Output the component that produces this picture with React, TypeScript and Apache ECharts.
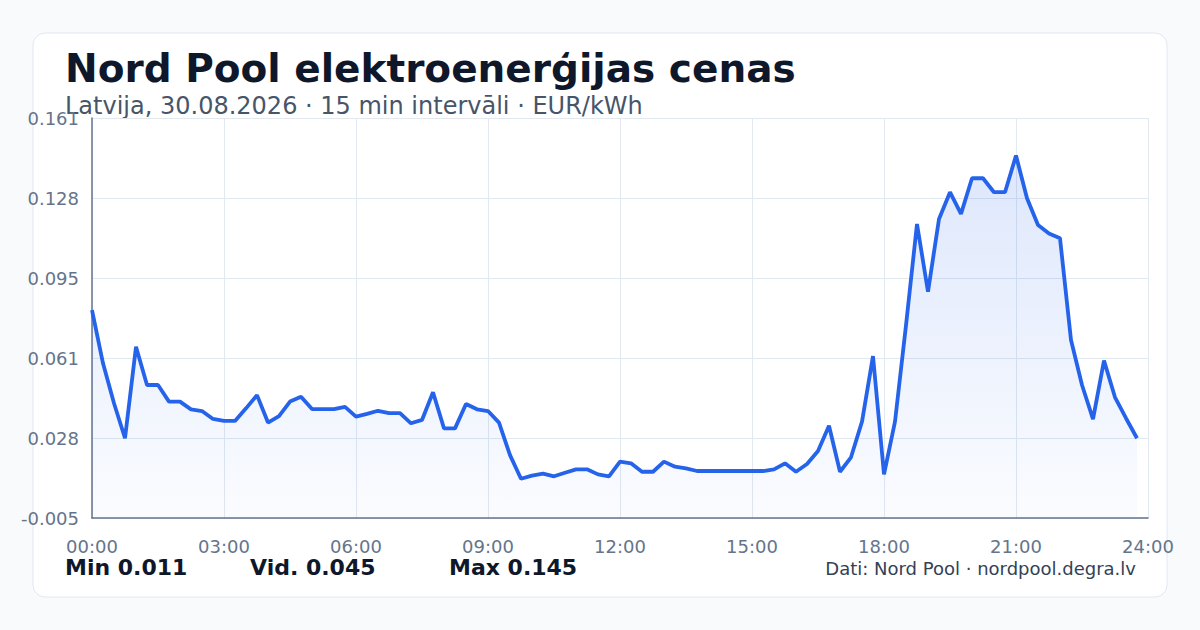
import React, { useEffect, useRef } from "react";
import * as echarts from "echarts";

const TITLE = "Nord Pool elektroenerģijas cenas";
const SUBTITLE = "Latvija, 30.08.2026 · 15 min intervāli · EUR/kWh";
const FOOTER = "Dati: Nord Pool · nordpool.degra.lv";
const STATS = ["Min 0.011", "Vid. 0.045", "Max 0.145"];

// 15-minute prices, 00:00 .. 23:45 (EUR/kWh)
const prices = [
  0.0813, 0.0592, 0.0426, 0.0281, 0.0661, 0.0502, 0.0502, 0.0433,
  0.0433, 0.0401, 0.0394, 0.0361, 0.0353, 0.0353, 0.0405, 0.046,
  0.0346, 0.0373, 0.0433, 0.0453, 0.0402, 0.0402, 0.0402, 0.0411,
  0.0371, 0.0382, 0.0395, 0.0385, 0.0385, 0.0343, 0.0357, 0.0472,
  0.0322, 0.0322, 0.0423, 0.0401, 0.0394, 0.0346, 0.0211, 0.0113,
  0.0126, 0.0134, 0.0123, 0.0138, 0.0152, 0.0152, 0.0131, 0.0123,
  0.0184, 0.0177, 0.0142, 0.0142, 0.0184, 0.0163, 0.0156, 0.0145,
  0.0145, 0.0145, 0.0145, 0.0145, 0.0145, 0.0145, 0.0152, 0.0177,
  0.0142, 0.0174, 0.0228, 0.0333, 0.0142, 0.0202, 0.035, 0.0622,
  0.0131, 0.035, 0.075, 0.117, 0.0889, 0.1191, 0.1302, 0.1212,
  0.136, 0.136, 0.1302, 0.1302, 0.1454, 0.1277, 0.1166, 0.1131,
  0.1111, 0.0689, 0.0502, 0.036, 0.0603, 0.0451, 0.0364, 0.0281,
];

const Y_MIN = -0.005;
const Y_MAX = 0.161;
const Y_STEP = 0.0332;
const X_TICKS_HOURS = 3;

const FONT = "DejaVu Sans";

export default function App() {
  const ref = useRef<HTMLDivElement>(null);

  useEffect(() => {
    if (!ref.current) return;
    const chart = echarts.init(ref.current, undefined, { renderer: "svg" });
    // the y scale is offset so that tick marks start at Y_MIN
    const data = prices.map((p, i) => [i * 0.25, p - Y_MIN]);
    const pad = (n: number) => (n < 10 ? "0" + n : "" + n);

    chart.setOption({
      animation: false,
      backgroundColor: "#f8fafc",
      textStyle: { fontFamily: FONT },
      grid: { left: 92, right: 52, top: 118, bottom: 112, containLabel: false },
      xAxis: {
        type: "value",
        min: 0,
        max: 24,
        interval: X_TICKS_HOURS,
        axisLine: { show: true, lineStyle: { color: "#64748b", width: 1.5 } },
        axisTick: { show: false },
        axisLabel: {
          color: "#64748b",
          fontSize: 18,
          fontFamily: FONT,
          margin: 19,
          formatter: (v: number) => pad(Math.round(v)) + ":00",
        },
        splitLine: { show: true, lineStyle: { color: "#e2e8f0", width: 1 } },
      },
      yAxis: {
        type: "value",
        min: 0,
        max: Y_MAX - Y_MIN,
        interval: Y_STEP,
        axisLine: { show: true, lineStyle: { color: "#64748b", width: 1.5 } },
        axisTick: { show: false },
        axisLabel: {
          color: "#64748b",
          fontSize: 18,
          fontFamily: FONT,
          margin: 13,
          formatter: (v: number) => (v + Y_MIN).toFixed(3),
        },
        splitLine: { show: true, lineStyle: { color: "#e2e8f0", width: 1 } },
      },
      series: [
        {
          type: "line",
          data,
          showSymbol: false,
          symbol: "none",
          lineStyle: { color: "#2563eb", width: 3.8 },
          itemStyle: { color: "#2563eb" },
          areaStyle: {
            color: new echarts.graphic.LinearGradient(0, 0, 0, 1, [
              { offset: 0, color: "rgba(37,99,235,0.22)" },
              { offset: 1, color: "rgba(37,99,235,0.03)" },
            ]),
          },
          z: 3,
        },
      ],
      graphic: [
        {
          type: "rect",
          z: -10,
          shape: { x: 33, y: 33, width: 1134, height: 564, r: 12 },
          style: { fill: "#ffffff", stroke: "#e2e8f0", lineWidth: 1 },
        },
        {
          type: "text",
          x: 65,
          y: 68,
          style: {
            text: TITLE,
            fill: "#0f172a",
            font: `bold 39px "${FONT}"`,
            verticalAlign: "middle",
            align: "left",
          },
        },
        {
          type: "text",
          x: 65,
          y: 106,
          style: {
            text: SUBTITLE,
            fill: "#475569",
            font: `24px "${FONT}"`,
            verticalAlign: "middle",
            align: "left",
          },
        },
        ...STATS.map((s, i) => ({
          type: "text",
          x: [65, 250, 449][i],
          y: 567,
          style: {
            text: s,
            fill: "#0f172a",
            font: `bold 22px "${FONT}"`,
            verticalAlign: "middle",
            align: "left",
          },
        })),
        {
          type: "text",
          x: 1136,
          y: 568,
          style: {
            text: FOOTER,
            fill: "#334155",
            font: `18px "${FONT}"`,
            verticalAlign: "middle",
            align: "right",
          },
        },
      ],
    });
    return () => chart.dispose();
  }, []);

  return (
    <div
      ref={ref}
      style={{ position: "fixed", left: 0, top: 0, width: 1200, height: 630 }}
    />
  );
}
